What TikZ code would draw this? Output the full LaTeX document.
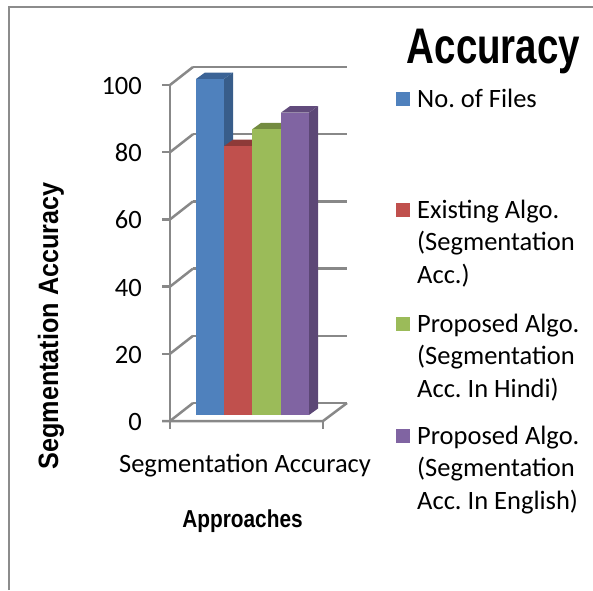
\documentclass[tikz,border=0pt]{standalone}
\usepackage{fontspec}
\setmainfont{Carlito}
\newfontfamily\headfont{Liberation Sans}[FakeStretch=0.77]
\newfontfamily\axisfont{Liberation Sans}[FakeStretch=0.9]
\newfontfamily\catfont{Liberation Sans}[FakeStretch=0.85]
\frenchspacing
\definecolor{framegray}{HTML}{8C8C8C}
\definecolor{gridgray}{HTML}{888888}
\definecolor{barblue}{HTML}{4F81BD}
\definecolor{barbluetop}{HTML}{3B6396}
\definecolor{barblueside}{HTML}{385D8A}
\definecolor{barred}{HTML}{C0504D}
\definecolor{barredtop}{HTML}{8E3A38}
\definecolor{barredside}{HTML}{8C3836}
\definecolor{bargreen}{HTML}{9BBB59}
\definecolor{bargreentop}{HTML}{738B40}
\definecolor{bargreenside}{HTML}{71893F}
\definecolor{barpurple}{HTML}{8064A2}
\definecolor{barpurpletop}{HTML}{614B7C}
\definecolor{barpurpleside}{HTML}{5C4776}
\tikzset{
  frameline/.style={draw=framegray, line width=2.5pt},
  gridline/.style={draw=gridgray, line width=2.5pt},
  ticklabel/.style={anchor=base east, inner sep=0pt, font=\fontsize{26.5}{32.5}\selectfont},
  legendtext/.style={anchor=base west, inner sep=0pt, font=\fontsize{26.5}{32.5}\selectfont},
}
% one 3D column: left x, right x, top y, front / top / side colours
\newcommand{\chartbar}[6]{%
  \fill[#6] (#2,#3) -- (#2+9,#3-6.5) -- (#2+9,408.5) -- (#2,415) -- cycle;
  \fill[#5] (#1,#3) -- (#1+9,#3-6.5) -- (#2+9,#3-6.5) -- (#2,#3) -- cycle;
  \fill[#4] (#1,#3) rectangle (#2,415);
}
\begin{document}
\begin{tikzpicture}[x=1pt,y=-1pt]
\useasboundingbox (0,0) rectangle (593,590);

% outer frame (only left and top edges fall inside the page)
\draw[frameline] (9,590) -- (9,7) -- (593,7);

% back wall grid lines and left wall diagonals
\foreach \v in {0,20,...,100}{
  \pgfmathsetmacro{\yf}{421-3.36*\v}
  \draw[gridline] (193,\yf-18) -- (347,\yf-18);
  \draw[gridline] (170,\yf) -- (193,\yf-18);
  \draw[gridline] (162,\yf) -- (170,\yf);
}
% floor edges
\draw[gridline] (162,421) -- (323,421) -- (347,403);
% value axis and category ticks
\draw[gridline] (170,429) -- (170,85);
\draw[gridline] (323,421) -- (323,429);

% columns
\chartbar{196}{224}{79}{barblue}{barbluetop}{barblueside}
\chartbar{224}{252}{146.2}{barred}{barredtop}{barredside}
\chartbar{252}{281}{129.4}{bargreen}{bargreentop}{bargreenside}
\chartbar{281}{309}{112.6}{barpurple}{barpurpletop}{barpurpleside}

% value labels
\node[ticklabel] (t100) at (142,94.5) {100};
\node[ticklabel] (t80) at (142,161.7) {80};
\node[ticklabel] (t60) at (142,228.9) {60};
\node[ticklabel] (t40) at (142,296.1) {40};
\node[ticklabel] (t20) at (142,363.3) {20};
\node[ticklabel] (t0) at (142,430.5) {0};

% category and axis titles
\node[anchor=base, inner sep=0pt, font=\fontsize{26.5}{32.5}\selectfont] (cat) at (245,472) {Segmentation Accuracy};
\node[anchor=base, inner sep=0pt, font=\catfont\bfseries\fontsize{24.5}{28}\selectfont] (xtitle) at (242.5,527) {Approaches};
\node[anchor=base, rotate=90, inner sep=0pt, font=\axisfont\bfseries\fontsize{28}{32}\selectfont] (ytitle) at (58,326) {Segmentation Accuracy};

% chart title
\node[anchor=base, inner sep=0pt, font=\headfont\bfseries\fontsize{50}{56}\selectfont] (title) at (493.5,63) {Accuracy};

% legend
\fill[barblue] (396,92) rectangle (410,106);
\node[legendtext] (l1) at (417,107) {No. of Files};
\fill[barred] (396,203) rectangle (410,217);
\node[legendtext] (l2a) at (417,218) {Existing Algo.};
\node[legendtext] (l2b) at (417,250.5) {(Segmentation};
\node[legendtext] (l2c) at (417,283) {Acc.)};
\fill[bargreen] (396,317) rectangle (410,331);
\node[legendtext] (l3a) at (417,332) {Proposed Algo.};
\node[legendtext] (l3b) at (417,364.5) {(Segmentation};
\node[legendtext] (l3c) at (417,397) {Acc. In Hindi)};
\fill[barpurple] (396,429) rectangle (410,443);
\node[legendtext] (l4a) at (417,444) {Proposed Algo.};
\node[legendtext] (l4b) at (417,476.5) {(Segmentation};
\node[legendtext] (l4c) at (417,509) {Acc. In English)};
\end{tikzpicture}
\end{document}
